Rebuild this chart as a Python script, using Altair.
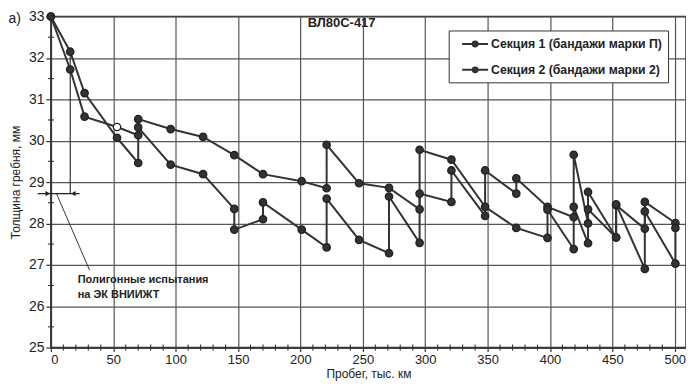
import altair as alt
import pandas as pd

# ---- data ----
series_names = ["Секция 1 (бандажи марки П)", "Секция 2 (бандажи марки 2)"]

s1_x = [0, 15.5, 27, 53, 70, 70, 96, 122, 147, 147, 170, 170, 201, 221, 221, 247, 271, 271,
        295.5, 295.5, 321, 321, 348, 348, 373, 373, 398, 419, 419, 430.5, 430.5, 453, 453,
        476, 476, 500.5]
s1_y = [33, 32.15, 31.15, 30.07, 29.46, 30.32, 29.42, 29.19, 28.35, 27.85, 28.1, 28.51, 27.85,
        27.42, 28.6, 27.6, 27.28, 28.65, 27.53, 28.72, 28.52, 29.28, 28.18, 29.28, 28.72, 29.09,
        28.4, 28.15, 28.4, 27.52, 28.34, 27.66, 28.44, 27.87, 28.52, 28.01]

s2_x = [0, 15.5, 27, 53, 70, 70, 96, 122, 147, 170, 201, 221, 221, 247, 271, 295.5, 295.5, 321,
        348, 373, 398, 398, 419, 419, 430.5, 430.5, 453, 453, 476, 476, 500.5, 500.5]
s2_y = [33, 31.72, 30.58, 30.33, 30.13, 30.52, 30.28, 30.09, 29.65, 29.19, 29.02, 28.85, 29.9,
        28.97, 28.86, 28.34, 29.78, 29.54, 28.4, 27.89, 27.65, 28.33, 27.38, 29.66, 28.0, 28.76,
        27.66, 28.46, 26.9, 28.29, 27.03, 27.89]

open_points = [(1, 3)]  # (series index, point index) drawn hollow

x_major = list(range(0, 501, 50))
x_minor = [v for v in range(0, 510, 10) if v % 50 != 0]
y_major = list(range(25, 34))
y_minor = [25.5 + i for i in range(8)]

chart_title = "ВЛ80С-417"
panel_label = "а)"
note_lines = ["Полигонные испытания", "на ЭК ВНИИЖТ"]
x_title = "Пробег, тыс. км"
y_title = "Толщина гребня, мм"

rows = []
for si, (xs_, ys_) in enumerate([(s1_x, s1_y), (s2_x, s2_y)]):
    for i, (xv, yv) in enumerate(zip(xs_, ys_)):
        rows.append({"series": series_names[si], "x": xv, "y": yv, "order": i,
                     "hollow": (si, i) in open_points})
df = pd.DataFrame(rows)

INK = "#333333"
FONT = "Liberation Sans"
W, H = 637, 332

x_axis = alt.Axis(values=x_major, title=x_title, grid=True, tickSize=4,
                  labelFontSize=13, labelPadding=2, titlePadding=2, titleFontSize=12)
y_axis = alt.Axis(values=y_major, title=y_title, grid=True, tickSize=5,
                  labelFontSize=14, labelPadding=2, titleFontSize=12, titlePadding=6)

xs = alt.Scale(domain=[0, 509], nice=False, zero=False)
ys = alt.Scale(domain=[25, 33], nice=False, zero=False)

X = alt.X("x:Q", scale=xs)
Y = alt.Y("y:Q", scale=ys)

base = alt.Chart(df)

lines = base.mark_line(strokeWidth=2).encode(
    x=alt.X("x:Q", scale=xs, axis=x_axis),
    y=alt.Y("y:Q", scale=ys, axis=y_axis),
    color=alt.Color(
        "series:N",
        scale=alt.Scale(domain=series_names, range=[INK, INK]),
        legend=alt.Legend(
            title=None, orient="none", legendX=399, legendY=14,
            symbolType="M-2,0H2M-0.38,0A0.38,0.38 0 1,0 0.38,0A0.38,0.38 0 1,0 -0.38,0Z",
            symbolSize=169, symbolStrokeWidth=2, symbolFillColor=INK,
            symbolStrokeColor=INK, labelFontSize=12.3, labelFontWeight="bold",
            labelColor="#222", labelOffset=8.5, padding=6, rowPadding=12,
            labelLimit=400, strokeColor=INK, fillColor="white", symbolOffset=13,
        ),
    ),
    order=alt.Order("order:Q"),
)

points = base.mark_point(filled=True, size=55, strokeWidth=1.3, opacity=1).encode(
    x=X, y=Y,
    fill=alt.condition("datum.hollow", alt.value("white"), alt.value(INK)),
    stroke=alt.value("#222"),
)

# minor ticks on the axes
xminor_df = pd.DataFrame({"x": x_minor})
xminor = alt.Chart(xminor_df).mark_rule(color=INK, strokeWidth=1.1).encode(
    x=X, y=alt.value(H - 3), y2=alt.value(H + 3))
yminor_df = pd.DataFrame({"y": y_minor})
yminor = alt.Chart(yminor_df).mark_rule(color=INK, strokeWidth=1.1).encode(
    y=Y, x=alt.value(-3), x2=alt.value(3))

title_df = pd.DataFrame({"x": [233], "y": [32.85], "t": [chart_title]})
title_mark = alt.Chart(title_df).mark_text(fontSize=13, fontWeight="bold", color="#222").encode(
    x=X, y=Y, text="t:N")

panel_df = pd.DataFrame({"x": [-29], "y": [32.93], "t": [panel_label]})
panel_mark = alt.Chart(panel_df).mark_text(fontSize=14, color="#222", align="center").encode(
    x=X, y=Y, text="t:N")

note_df = pd.DataFrame({"x": [21.5, 21.5], "y": [26.64, 26.28], "t": note_lines})
note_mark = alt.Chart(note_df).mark_text(fontSize=11, fontWeight="bold", color="#222",
                                         align="left").encode(
    x=X, y=Y, text="t:N")

seg_df = pd.DataFrame({
    "x": [-10.5, 4.5, 15.5],
    "x2": [23, 31, 15.5],
    "y": [28.72, 28.72, 32.1],
    "y2": [28.72, 26.87, 28.72],
    "w": [1.3, 0.9, 1.1],
})
segs = alt.Chart(seg_df).mark_rule(color="#222").encode(
    x=X, x2="x2:Q", y=Y, y2="y2:Q",
    strokeWidth=alt.StrokeWidth("w:Q", scale=None, legend=None),
)

head_df = pd.DataFrame({"x": [-2.5, 18], "y": [28.72, 28.72],
                        "shape": ["triangle-right", "triangle-left"]})
heads = alt.Chart(head_df).mark_point(filled=True, size=28, color="#222", opacity=1).encode(
    x=X, y=Y,
    shape=alt.Shape("shape:N", scale=None, legend=None),
)

chart = alt.layer(lines, xminor, yminor, segs, heads, points, title_mark, panel_mark,
                  note_mark).properties(
    width=W, height=H,
    autosize=alt.AutoSizeParams(type="none"),
    padding={"left": 43, "top": 8, "right": 0, "bottom": 34},
).configure(font=FONT).configure_view(
    stroke=INK, strokeWidth=1.5
).configure_axis(
    gridColor="#555555", gridWidth=1.2, domainColor=INK, domainWidth=1.5,
    tickColor=INK, tickWidth=1.2, labelColor="#222", titleColor="#222",
    labelFont=FONT, titleFont=FONT, titleFontWeight="normal",
)

chart.save("out.html", embed_options={"renderer": "svg", "actions": False})
